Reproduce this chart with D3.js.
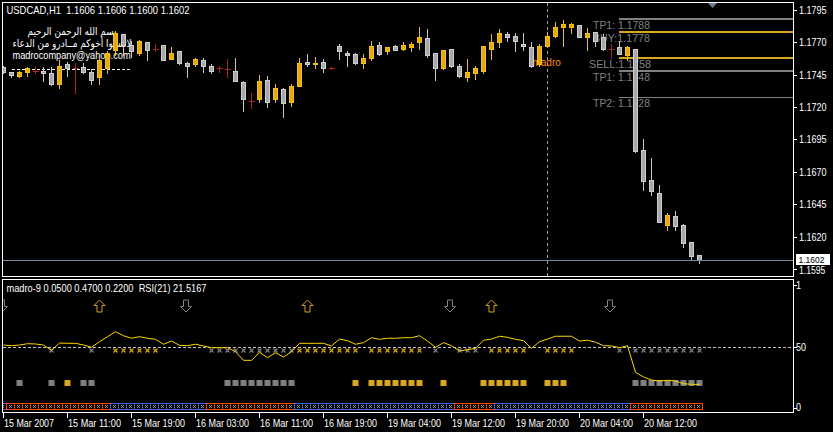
<!DOCTYPE html>
<html><head><meta charset="utf-8">
<script src="https://cdn.jsdelivr.net/npm/d3@7"></script>
<style>html,body{margin:0;padding:0;background:#000;overflow:hidden}svg{display:block}</style>
</head><body>
<svg id="c" width="833" height="432"></svg>
<script>
// ---------- DATA ----------
const opens  = [1.1751,1.1747,1.1744,1.1747,1.1748,1.1748,1.1746,1.1738,1.1753,1.1750,1.1751,1.1747,1.1743,1.1750,1.1764,1.1776,1.1768,1.1762,1.1770,1.1765,1.1768,1.1757,1.1763,1.1754,1.1753,1.1756,1.1752,1.1750,1.1749,1.1748,1.1739,1.1725,1.1726,1.1741,1.1726,1.1734,1.1724,1.1736,1.1755,1.1753,1.1755,1.1750,1.1767,1.1762,1.1761,1.1754,1.1758,1.1768,1.1763,1.1767,1.1765,1.1766,1.1770,1.1773,1.1762,1.1750,1.1765,1.1752,1.1743,1.1746,1.1748,1.1765,1.1770,1.1776,1.1775,1.1769,1.1766,1.1753,1.1767,1.1775,1.1782,1.1782,1.1783,1.1774,1.1778,1.1774,1.1765,1.1766,1.1760,1.1765,1.1687,1.1664,1.1654,1.1629,1.1636,1.1629,1.1616,1.1606];
const highs  = [1.1752,1.1747,1.1748,1.1751,1.1751,1.1751,1.1751,1.1756,1.1755,1.1754,1.1754,1.1749,1.1757,1.1763,1.1779,1.1776,1.1771,1.1772,1.1770,1.1769,1.1768,1.1766,1.1763,1.1755,1.1758,1.1758,1.1753,1.1752,1.1757,1.1758,1.1740,1.1731,1.1745,1.1744,1.1738,1.1735,1.1738,1.1758,1.1761,1.1759,1.1757,1.1751,1.1769,1.1763,1.1762,1.1761,1.1771,1.1770,1.1766,1.1768,1.1770,1.1770,1.1782,1.1780,1.1762,1.1764,1.1765,1.1753,1.1757,1.1752,1.1767,1.1776,1.1780,1.1778,1.1777,1.1777,1.1770,1.1769,1.1778,1.1786,1.1787,1.1785,1.1783,1.1781,1.1778,1.1776,1.1769,1.1771,1.1767,1.1765,1.1695,1.1681,1.1660,1.1638,1.1640,1.1630,1.1616,1.1606];
const lows   = [1.1746,1.1743,1.1743,1.1744,1.1746,1.1740,1.1737,1.1735,1.1744,1.1731,1.1746,1.1738,1.1738,1.1746,1.1760,1.1760,1.1759,1.1760,1.1756,1.1763,1.1756,1.1757,1.1753,1.1743,1.1752,1.1747,1.1746,1.1747,1.1743,1.1740,1.1717,1.1719,1.1724,1.1720,1.1724,1.1712,1.1721,1.1736,1.1752,1.1750,1.1747,1.1749,1.1757,1.1752,1.1753,1.1750,1.1756,1.1760,1.1761,1.1764,1.1764,1.1763,1.1765,1.1759,1.1741,1.1749,1.1751,1.1743,1.1740,1.1742,1.1746,1.1757,1.1766,1.1771,1.1763,1.1764,1.1751,1.1752,1.1767,1.1774,1.1767,1.1777,1.1774,1.1764,1.1767,1.1764,1.1758,1.1761,1.1756,1.1685,1.1656,1.1652,1.1631,1.1625,1.1625,1.1612,1.1602,1.1600];
const closes = [1.1747,1.1745,1.1747,1.1750,1.1748,1.1746,1.1738,1.1752,1.1750,1.1750,1.1747,1.1741,1.1756,1.1762,1.1777,1.1768,1.1763,1.1771,1.1764,1.1765,1.1756,1.1762,1.1754,1.1752,1.1757,1.1752,1.1748,1.1750,1.1749,1.1740,1.1726,1.1725,1.1740,1.1724,1.1735,1.1723,1.1736,1.1754,1.1753,1.1754,1.1750,1.1750,1.1763,1.1760,1.1754,1.1758,1.1767,1.1761,1.1766,1.1764,1.1768,1.1769,1.1774,1.1760,1.1750,1.1764,1.1752,1.1744,1.1747,1.1750,1.1767,1.1770,1.1777,1.1774,1.1771,1.1767,1.1752,1.1767,1.1775,1.1782,1.1784,1.1784,1.1774,1.1777,1.1771,1.1765,1.1765,1.1761,1.1766,1.1686,1.1663,1.1655,1.1631,1.1637,1.1628,1.1615,1.1605,1.1602];

const rsi = [51.1,50.6,51.1,52.1,51.9,51.1,47.1,52.6,52.4,52.4,51.1,49.4,53.6,57.4,61.1,58.1,56.2,57.4,56.2,55.4,51.7,54.1,50.9,50.6,51.7,50.4,49.1,49.1,49.1,46.1,39.6,39.6,45.6,41.6,45.3,42.1,46.1,52.4,52.4,52.4,52.4,50.4,55.6,54.4,51.7,52.9,56.6,55.4,56.2,56.2,56.6,56.6,58.1,54.1,49.4,52.9,50.6,46.6,47.6,48.6,54.7,55.6,57.7,56.9,55.4,54.4,48.6,53.6,55.6,57.7,57.7,57.7,54.1,54.7,53.2,50.6,50.4,49.1,50.6,30.6,27.1,24.8,24.1,24.6,24.1,22.0,21.6,21.5167];

// trend state per bar: 1 = blue, -1 = red
const trend = [1,-1,-1,-1,-1,-1,-1,-1,-1,-1,-1,-1,-1,-1,1,1,1,1,1,1,1,1,1,1,1,1,-1,-1,-1,-1,-1,-1,-1,-1,-1,-1,-1,1,1,1,1,1,1,1,1,1,1,1,1,1,1,1,1,1,1,1,1,-1,-1,-1,-1,-1,1,1,1,1,1,1,1,1,1,1,1,1,1,1,1,1,1,-1,-1,-1,-1,-1,-1,-1,-1,-1];

const crossGold  = [14,15,16,17,18,19,37,38,39,40,41,42,43,44,46,47,48,49,50,51,52,61,62,63,64,65,68,69,70,71];
const crossGray  = [6,11,26,27,28,29,30,31,32,33,34,35,36,54,57,58,59,77,79,80,81,82,83,84,85,86,87];
const squareGold = [8,44,46,47,48,49,50,51,52,55,60,61,62,63,64,65,68,69,70];
const squareGray = [2,6,10,11,28,29,30,31,32,33,34,35,36,79,80,81,82,83,84,85,86,87];
const arrowUp   = [12,38,61];
const arrowDown = [0,23,56,76];

const timeTickIdx = [0,8,16,24,32,40,48,56,64,72,80];
const timeLabels  = ["15 Mar 2007","15 Mar 11:00","15 Mar 19:00","16 Mar 03:00","16 Mar 11:00","16 Mar 19:00","19 Mar 04:00","19 Mar 12:00","19 Mar 20:00","20 Mar 04:00","20 Mar 12:00"];
const priceTicks  = [1.1795,1.1770,1.1745,1.1720,1.1695,1.1670,1.1645,1.1620,1.1595];
const rsiTicks    = [100,50,0];
const rsiTickText = ["1","50","0"];

const levelPrices = [1.1788,1.1778,1.1758,1.1748,1.1728];
const levelLabels = ["TP1: 1.1788","BUY:1.1778","SELL:1.1758","TP1: 1.1748","TP2: 1.1728"];
const levelKinds  = ["tp","entry","entry","tp","tp2"];

const bidPrice = 1.1602;
const markerBar = 68;

// ---------- SETUP ----------
const svg = d3.select("#c");
svg.append("rect").attr("width",833).attr("height",432).attr("fill","#000");
const FONT = "'Liberation Sans', Arial, sans-serif";
const x = d3.scaleLinear().domain([0,87]).range([3.5,699.5]);
const y = d3.scaleLinear().domain([1.1595,1.1795]).range([269.07,9.87]);
const r = d3.scaleLinear().domain([0,100]).range([413,280]);
const f4 = d3.format(".4f");

const defs = svg.append("defs");
defs.append("clipPath").attr("id","cm").append("rect").attr("x",3).attr("y",3).attr("width",790).attr("height",273);
defs.append("clipPath").attr("id","cs").append("rect").attr("x",3).attr("y",280).attr("width",790).attr("height",132);

function txt(parent, tx, ty, s, o={}) {
  const g = parent.append("g").attr("transform",`translate(${tx},${ty}) scale(${o.sx||0.86},1)`);
  const t = g.append("text").text(s).attr("fill",o.fill||"#fff")
    .attr("font-size",o.size||10.5).attr("font-family",o.family||FONT)
    .attr("text-anchor",o.anchor||"start");
  if (o.w) t.attr("textLength",o.w).attr("lengthAdjust","spacingAndGlyphs");
  return t;
}

// ---------- MAIN WINDOW ----------
const main = svg.append("g").attr("clip-path","url(#cm)");

// comment texts
txt(main, 72, 35, "بسم الله الرحمن الرحيم", {family:"'DejaVu Sans', sans-serif", anchor:"middle", sx:1, w:89, size:10.5});
txt(main, 72, 46.5, "لاتنسوا أخوكم مــادرو من الدعاء", {family:"'DejaVu Sans', sans-serif", anchor:"middle", sx:1, w:119, size:10.5});
txt(main, 12.5, 59, "madrocompany@yahoo.com", {sx:0.88});
main.append("line").attr("x1",12).attr("x2",132).attr("y1",69.5).attr("y2",69.5)
  .attr("stroke","#fff").attr("stroke-dasharray","3,2");

// level lines
const lvG = main.append("g").attr("shape-rendering","crispEdges");
levelPrices.forEach((p,i)=>{
  const yy = Math.round(y(p));
  const k = levelKinds[i];
  lvG.append("line").attr("x1",619).attr("x2",793).attr("y1",yy).attr("y2",yy)
    .attr("stroke", k==="entry" ? "#daa520" : "#808080")
    .attr("stroke-width", k==="tp2" ? 1 : 2);
  txt(main, k==="entry" && i===2 ? 589 : 593, yy+10, levelLabels[i], {fill:"#808080", sx:1, w: i===2 ? 62 : 57, size:10.5});
});

// vertical dashed line and label
main.append("line").attr("x1",x(markerBar)).attr("x2",x(markerBar)).attr("y1",3).attr("y2",276)
  .attr("stroke","#a0a0a0").attr("stroke-dasharray","3,3").attr("shape-rendering","crispEdges");
txt(main, 532.5, 66, "madro", {fill:"#ff8c00", sx:0.95});

// candles
const gC = main.append("g").attr("shape-rendering","crispEdges");
opens.forEach((o,i)=>{
  const c = closes[i], cx = x(i);
  const yh = Math.round(y(highs[i])), yl = Math.round(y(lows[i]));
  const yo = Math.round(y(o)), yc = Math.round(y(c));
  if (o === c) {
    gC.append("line").attr("x1",cx).attr("x2",cx).attr("y1",yh).attr("y2",yl+1).attr("stroke","#b22222");
    gC.append("line").attr("x1",cx-3).attr("x2",cx+3).attr("y1",yo+0.5).attr("y2",yo+0.5).attr("stroke","#b22222");
    return;
  }
  const bull = c > o;
  const top = Math.min(yo,yc), bot = Math.max(yo,yc);
  gC.append("line").attr("x1",cx).attr("x2",cx).attr("y1",yh).attr("y2",yl+1)
    .attr("stroke", bull ? "#f0c000" : "#c8c8c8");
  gC.append("rect").attr("x",cx-2).attr("y",top+0.5).attr("width",4).attr("height",Math.max(bot-top,1))
    .attr("fill", bull ? "#e2aa18" : "#a8a8a8").attr("stroke", bull ? "#f5c400" : "#d0d0d0");
});

// bid line
const yb = Math.round(y(bidPrice)) + 0.5;
main.append("line").attr("x1",3).attr("x2",793).attr("y1",yb).attr("y2",yb).attr("stroke","#778899");

// shift triangle
main.append("path").attr("d","M708,3 L717,3 L712.5,8 Z").attr("fill","#708090");

// frames
const fr = svg.append("g").attr("shape-rendering","crispEdges").attr("fill","none").attr("stroke","#fff");
fr.append("rect").attr("x",2.5).attr("y",2.5).attr("width",791).attr("height",274);
fr.append("rect").attr("x",2.5).attr("y",279.5).attr("width",791).attr("height",133);

// price axis
const pa = svg.append("g");
priceTicks.forEach(p=>{
  const yy = Math.round(y(p)) + 0.5;
  pa.append("line").attr("x1",793).attr("x2",797).attr("y1",yy).attr("y2",yy).attr("stroke","#fff").attr("shape-rendering","crispEdges");
  const base = p === 1.1595 ? yy + 4.5 : yy + 3;
  txt(pa, 799, base, f4(p), {size: p === 1.1595 ? 10 : 10.5});
});
pa.append("rect").attr("x",796).attr("y",254).attr("width",34).attr("height",11).attr("fill","#fff");
txt(pa, 798.5, yb + 2, f4(bidPrice), {fill:"#000", size:9.5, sx:0.9});

// title
txt(svg, 6.5, 14, `USDCAD,H1  ${f4(opens[87])} ${f4(highs[87])} ${f4(lows[87])} ${f4(closes[87])}`, {sx:1, w:183}).style("white-space","pre");

// ---------- SUB WINDOW ----------
const sub = svg.append("g").attr("clip-path","url(#cs)");
sub.append("line").attr("x1",3).attr("x2",793).attr("y1",Math.round(r(50))+0.5).attr("y2",Math.round(r(50))+0.5)
  .attr("stroke","#c0c0c0").attr("stroke-dasharray","3,2");

// trend boxes
const bx = sub.append("g").attr("shape-rendering","crispEdges");
trend.forEach((t,i)=>{
  const cx = x(i);
  const col = t > 0 ? "#4169e1" : "#ff4500";
  bx.append("rect").attr("x",cx-5).attr("y",403.5).attr("width",8).attr("height",6)
    .attr("fill","none").attr("stroke",col);
  bx.append("path").attr("d",`M${cx-2.5},${405} L${cx+0.5},${408} M${cx+0.5},${405} L${cx-2.5},${408}`)
    .attr("stroke","#9a9a9a").attr("stroke-width",1);
});

// squares
squareGray.forEach(i=>sub.append("rect").attr("x",x(i)-3).attr("y",380).attr("width",6).attr("height",6).attr("fill","#808080"));
squareGold.forEach(i=>sub.append("rect").attr("x",x(i)-3).attr("y",380).attr("width",6).attr("height",6).attr("fill","#daa520"));

// crosses
function cross(i,col){
  const cx = x(i), cy = 350.5;
  sub.append("path").attr("d",`M${cx-2},${cy-2} L${cx+2},${cy+2} M${cx+2},${cy-2} L${cx-2},${cy+2}`)
    .attr("stroke",col).attr("stroke-width",1.2);
}
crossGray.forEach(i=>cross(i,"#808080"));
crossGold.forEach(i=>cross(i,"#daa520"));

// arrows
const upPath = "M0,-6 L5.5,-0.5 L2.5,-0.5 L2.5,6 L-2.5,6 L-2.5,-0.5 L-5.5,-0.5 Z";
arrowUp.forEach(i=>sub.append("path").attr("d",upPath).attr("transform",`translate(${x(i)},306)`)
  .attr("fill","none").attr("stroke","#daa520"));
arrowDown.forEach(i=>sub.append("path").attr("d",upPath).attr("transform",`translate(${x(i)-1.5},306) scale(1,-1)`)
  .attr("fill","none").attr("stroke","#808080"));

// RSI line
sub.append("path").datum(rsi).attr("d",d3.line().x((d,i)=>x(i)).y(d=>r(d)))
  .attr("fill","none").attr("stroke","#ffd700").attr("stroke-width",1);

// sub title
txt(svg, 6.5, 292, "madro-9 0.0500 0.4700 0.2200  RSI(21) " + f4(rsi[87]), {sx:1, w:200}).style("white-space","pre");

// sub axis
rsiTicks.forEach((v,k)=>{
  const yy = Math.round(r(v)) + 0.5;
  const ty = Math.min(Math.max(yy,285.5),408.5);
  svg.append("line").attr("x1",793).attr("x2",797).attr("y1",ty).attr("y2",ty).attr("stroke","#fff").attr("shape-rendering","crispEdges");
  txt(svg, 796, Math.min(Math.max(yy+3,289),411), rsiTickText[k]);
});

// ---------- TIME AXIS ----------
timeTickIdx.forEach((idx,k)=>{
  const tx = x(idx);
  svg.append("line").attr("x1",tx).attr("x2",tx).attr("y1",413).attr("y2",418).attr("stroke","#fff").attr("shape-rendering","crispEdges");
  txt(svg, tx+0.5, 427, timeLabels[k], {sx:1, w: timeLabels[k].length === 11 ? 50 : 53});
});
</script>
</body></html>
